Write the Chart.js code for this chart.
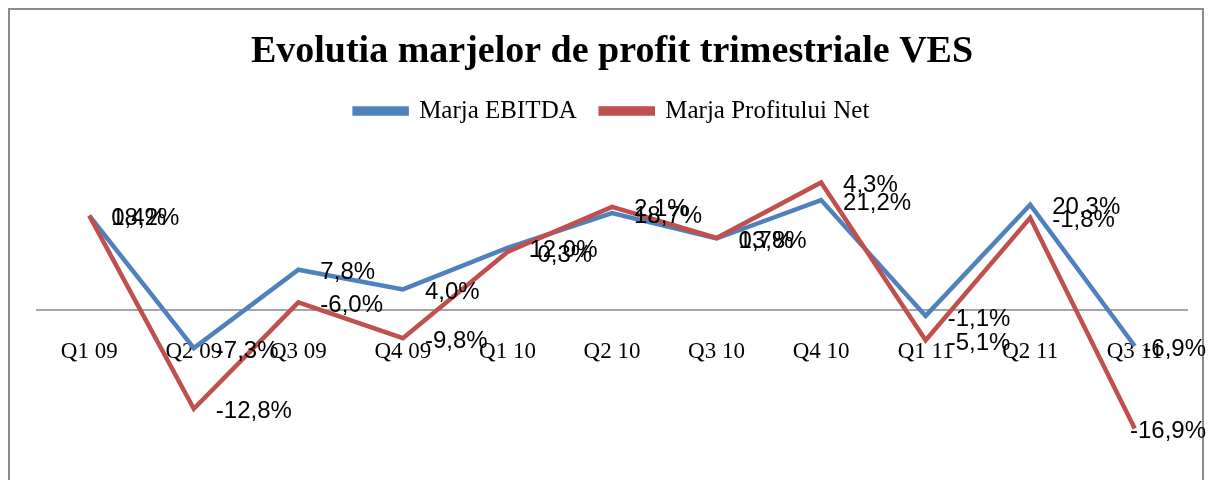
<!DOCTYPE html>
<html>
<head>
<meta charset="utf-8">
<script src="https://cdn.jsdelivr.net/npm/chart.js@4/dist/chart.umd.min.js"></script>
<style>
  html, body { margin: 0; padding: 0; background: #fff; }
  #wrap { width: 1212px; height: 480px; }
</style>
</head>
<body>
<div id="wrap"><canvas id="mainChart" width="1212" height="480"></canvas></div>
<script>
// date
const quarters = ["Q1 09", "Q2 09", "Q3 09", "Q4 09", "Q1 10", "Q2 10", "Q3 10", "Q4 10", "Q1 11", "Q2 11", "Q3 11"];

const marjaEbitda = [18.2, -7.3, 7.8, 4.0, 12.0, 18.7, 13.8, 21.2, -1.1, 20.3, -6.9];
const marjaNet = [18.2, -19.0, 1.5, -5.4, 11.2, 19.9, 13.9, 24.6, -5.8, 17.8, -22.8];

const etichetaEbitda = ["18,2%", "-7,3%", "7,8%", "4,0%", "12,0%", "18,7%", "13,8%", "21,2%", "-1,1%", "20,3%", "-6,9%"];
const etichetaNet = ["0,4%", "-12,8%", "-6,0%", "-9,8%", "-0,3%", "2,1%", "0,7%", "4,3%", "-5,1%", "-1,8%", "-16,9%"];

const BLUE = "#4F81BD";
const RED = "#C0504D";

// chenar exterior + fundal
const frame = {
    id: "frame",
    beforeDraw(chart) {
        const c = chart.ctx;
        c.save();
        c.fillStyle = "#fff";
        c.fillRect(0, 0, chart.width, chart.height);
        c.strokeStyle = "#8C8C8C";
        c.lineWidth = 2;
        c.strokeRect(9, 9, 1194, 500);
        c.restore();
    }
};

// etichete de date in dreapta punctelor
const dataLabels = {
    id: "dataLabels",
    afterDatasetsDraw(chart) {
        const c = chart.ctx;
        const texts = [etichetaEbitda, etichetaNet];
        c.save();
        c.font = "24px 'Liberation Sans', sans-serif";
        c.fillStyle = "#000";
        c.textBaseline = "middle";
        chart.data.datasets.forEach((ds, di) => {
            const meta = chart.getDatasetMeta(di);
            meta.data.forEach((pt, i) => {
                const t = texts[di][i];
                let x = pt.x + 22;
                const w = c.measureText(t).width;
                if (x + w > 1206) x = 1206 - w;
                c.fillText(t, x, pt.y + 3);
            });
        });
        c.restore();
    }
};

new Chart(document.getElementById("mainChart"), {
    type: "line",
    data: {
        labels: quarters,
        datasets: [
            {
                label: "Marja EBITDA",
                data: marjaEbitda,
                borderColor: BLUE,
                backgroundColor: BLUE,
                borderWidth: 4.5,
                pointRadius: 0,
                tension: 0,
                order: 1
            },
            {
                label: "Marja Profitului Net",
                data: marjaNet,
                borderColor: RED,
                backgroundColor: RED,
                borderWidth: 4.5,
                pointRadius: 0,
                tension: 0,
                order: 0
            }
        ]
    },
    options: {
        responsive: false,
        animation: false,
        layout: { padding: { left: 37, right: 25, top: 0, bottom: 14 } },
        plugins: {
            title: {
                display: true,
                text: "Evolutia marjelor de profit trimestriale VES",
                color: "#000",
                font: { family: "'Liberation Serif', serif", size: 38, weight: "bold" },
                padding: { top: 29, bottom: 0 }
            },
            legend: {
                position: "top",
                labels: {
                    sort: (a, b) => a.datasetIndex - b.datasetIndex,
                    color: "#000",
                    font: { family: "'Liberation Serif', serif", size: 25 },
                    boxWidth: 52,
                    boxHeight: 5,
                    padding: 24
                }
            },
            tooltip: { enabled: false }
        },
        scales: {
            x: {
                position: { y: 0 },
                offset: true,
                grid: { display: false, drawTicks: false },
                border: { display: true, color: "#A6A6A6", width: 2 },
                ticks: {
                    color: "#000",
                    padding: 28,
                    maxRotation: 0,
                    font: { family: "'Liberation Serif', serif", size: 23 }
                }
            },
            y: {
                display: false,
                min: -30,
                max: 34
            }
        }
    },
    plugins: [frame, dataLabels]
});
</script>
</body>
</html>
